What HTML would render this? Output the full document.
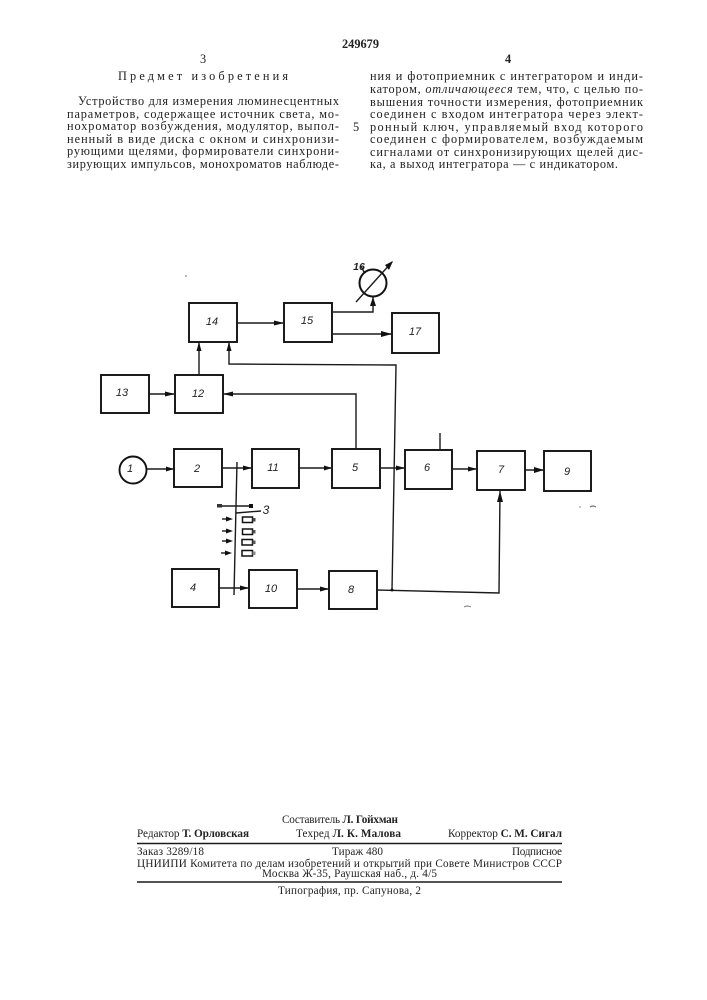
<!DOCTYPE html>
<html lang="ru">
<head>
<meta charset="utf-8">
<style>
html,body{margin:0;padding:0;background:#fff}
svg{display:block;filter:blur(0.35px)}
.t{font-family:"Liberation Serif",serif;font-size:12.3px;fill:#222}
.f{font-family:"Liberation Serif",serif;font-size:11.2px;fill:#222}
.b{font-weight:bold}
.l{font-family:"Liberation Sans",sans-serif;font-style:italic;font-size:11px;fill:#222;text-anchor:middle}
rect.n{fill:none;stroke:#111;stroke-width:1.9}
line,polyline{fill:none;stroke:#1a1a1a;stroke-width:1.4}
polygon{fill:#111}
</style>
</head>
<body>
<svg xmlns="http://www.w3.org/2000/svg" width="707" height="1000" viewBox="0 0 707 1000">
<rect width="707" height="1000" fill="#fff"/>

<!-- header -->
<text class="t b" x="342" y="48" textLength="37" lengthAdjust="spacing">249679</text>
<text class="t" x="200" y="63">3</text>
<text class="t b" x="505" y="63">4</text>
<text class="t" x="118" y="80" textLength="170" lengthAdjust="spacing">Предмет изобретения</text>

<!-- left column -->
<text class="t" x="78" y="105" textLength="261" lengthAdjust="spacing">Устройство для измерения люминесцентных</text>
<text class="t" x="67" y="118" textLength="272" lengthAdjust="spacing">параметров, содержащее источник света, мо-</text>
<text class="t" x="67" y="130" textLength="272" lengthAdjust="spacing">нохроматор возбуждения, модулятор, выпол-</text>
<text class="t" x="67" y="143" textLength="272" lengthAdjust="spacing">ненный в виде диска с окном и синхронизи-</text>
<text class="t" x="67" y="155" textLength="272" lengthAdjust="spacing">рующими щелями, формирователи синхрони-</text>
<text class="t" x="67" y="168" textLength="272" lengthAdjust="spacing">зирующих импульсов, монохроматов наблюде-</text>

<text class="t" x="353" y="131">5</text>

<!-- right column -->
<text class="t" x="370" y="80" textLength="273" lengthAdjust="spacing">ния и фотоприемник с интегратором и инди-</text>
<text class="t" x="370" y="93" textLength="273" lengthAdjust="spacing">катором, <tspan font-style="italic">отличающееся</tspan> тем, что, с целью по-</text>
<text class="t" x="370" y="106" textLength="273" lengthAdjust="spacing">вышения точности измерения, фотоприемник</text>
<text class="t" x="370" y="118" textLength="273" lengthAdjust="spacing">соединен с входом интегратора через элект-</text>
<text class="t" x="370" y="131" textLength="273" lengthAdjust="spacing">ронный ключ, управляемый вход которого</text>
<text class="t" x="370" y="143" textLength="273" lengthAdjust="spacing">соединен с формирователем, возбуждаемым</text>
<text class="t" x="370" y="156" textLength="273" lengthAdjust="spacing">сигналами от синхронизирующих щелей дис-</text>
<text class="t" x="370" y="168" textLength="248" lengthAdjust="spacing">ка, а выход интегратора — с индикатором.</text>

<!-- boxes -->
<rect class="n" x="189" y="303" width="48" height="39"/>
<rect class="n" x="284" y="303" width="48" height="39"/>
<rect class="n" x="392" y="313" width="47" height="40"/>
<rect class="n" x="101" y="375" width="48" height="38"/>
<rect class="n" x="175" y="375" width="48" height="38"/>
<rect class="n" x="174" y="449" width="48" height="38"/>
<rect class="n" x="252" y="449" width="47" height="39"/>
<rect class="n" x="332" y="449" width="48" height="39"/>
<rect class="n" x="405" y="450" width="47" height="39"/>
<rect class="n" x="477" y="451" width="48" height="39"/>
<rect class="n" x="544" y="451" width="47" height="40"/>
<rect class="n" x="172" y="569" width="47" height="38"/>
<rect class="n" x="249" y="570" width="48" height="38"/>
<rect class="n" x="329" y="571" width="48" height="38"/>
<circle cx="133" cy="470" r="13.5" fill="none" stroke="#111" stroke-width="1.9"/>
<circle cx="373" cy="283" r="13.5" fill="none" stroke="#111" stroke-width="2"/>

<!-- connectors -->
<line x1="147" y1="469" x2="174" y2="469"/><polygon points="174,469 166,466.5 166,471.5"/>
<line x1="222" y1="468" x2="252" y2="468"/><polygon points="252,468 243,465.5 243,470.5"/>
<line x1="299" y1="468" x2="332" y2="468"/><polygon points="332,468 324,465.5 324,470.5"/>
<line x1="380" y1="468" x2="405" y2="468"/><polygon points="405,468 396,465.5 396,470.5"/>
<line x1="452" y1="469" x2="477" y2="469"/><polygon points="477,469 468,466.5 468,471.5"/>
<line x1="525" y1="470" x2="544" y2="470"/><polygon points="544,470 534,467 534,473"/>
<line x1="149" y1="394" x2="175" y2="394"/><polygon points="175,394 165,391.5 165,396.5"/>
<line x1="199" y1="375" x2="199" y2="342"/><polygon points="199,342 196.5,351 201.500,351"/>
<line x1="237" y1="323" x2="284" y2="323"/><polygon points="284,323 274,320.5 274,325.500"/>
<polyline points="332,312 373,312 373,297"/><polygon points="373,297 370,306 376,306"/>
<line x1="332" y1="334" x2="392" y2="334"/><polygon points="392,334 381,331 381,337"/>
<polyline points="356,449 356,394 223,394"/><polygon points="223,394 233,391.5 233,396.5"/>
<polyline points="229,342 229,364 396,365 392,590"/><polygon points="229,342 226.500,351 231.500,351"/>
<polyline points="377,590 499,593 500,491" stroke-width="1.6"/><polygon points="500,491 497,502 503,502"/>
<circle cx="392" cy="590" r="1.5" fill="#111"/>
<line x1="219" y1="588" x2="249" y2="588"/><polygon points="249,588 240,585.500 240,590.500"/>
<line x1="297" y1="589" x2="329" y2="589"/><polygon points="329,589 320,586.500 320,591.500"/>
<line x1="440" y1="433" x2="440" y2="450"/>

<!-- indicator slash -->
<line x1="356" y1="302" x2="392" y2="262"/><polygon points="393,261 385,265 389,270"/>
<line x1="361" y1="266" x2="364" y2="272"/>

<!-- disk -->
<line x1="237" y1="462" x2="234" y2="595" stroke-width="1.6"/>
<line x1="219" y1="506" x2="252" y2="506"/>
<rect x="217" y="504" width="5" height="3.500" fill="#333"/>
<rect x="249" y="504" width="4" height="4" fill="#111"/>
<line x1="236" y1="513" x2="261" y2="511"/>
<text class="l" x="266" y="514" style="font-size:12px">3</text>
<g>
<line x1="222" y1="519" x2="230" y2="519"/><polygon points="233,519 226,516.500 226,521.500"/>
<line x1="222" y1="531" x2="230" y2="531"/><polygon points="233,531 226,528.500 226,533.500"/>
<line x1="222" y1="541" x2="230" y2="541"/><polygon points="233,541 226,538.500 226,543.500"/>
<line x1="221" y1="553" x2="229" y2="553"/><polygon points="232,553 225,550.500 225,555.500"/>
<rect x="242.500" y="517" width="10" height="5.500" fill="none" stroke="#111" stroke-width="1.500"/>
<rect x="252.500" y="518" width="3" height="3.500" fill="#444"/>
<rect x="242.500" y="529" width="10" height="5.500" fill="none" stroke="#111" stroke-width="1.500"/>
<rect x="252.500" y="530" width="3" height="3.500" fill="#555"/>
<rect x="242" y="539.500" width="10.500" height="5.500" fill="none" stroke="#111" stroke-width="1.500"/>
<rect x="252.500" y="540.500" width="3" height="3.500" fill="#555"/>
<rect x="242" y="550.500" width="10.500" height="5.500" fill="none" stroke="#111" stroke-width="1.500"/>
<rect x="252.500" y="551.500" width="3" height="3.500" fill="#888"/>
</g>

<!-- block labels -->
<text class="l" x="212" y="325">14</text>
<text class="l" x="307" y="324">15</text>
<text class="l" x="415" y="335">17</text>
<text class="l" x="122" y="396">13</text>
<text class="l" x="198" y="397">12</text>
<text class="l" x="130" y="472">1</text>
<text class="l" x="197" y="472">2</text>
<text class="l" x="273" y="471">11</text>
<text class="l" x="355" y="471">5</text>
<text class="l" x="427" y="471">6</text>
<text class="l" x="501" y="473">7</text>
<text class="l" x="567" y="475">9</text>
<text class="l" x="193" y="591">4</text>
<text class="l" x="271" y="592">10</text>
<text class="l" x="351" y="593">8</text>
<text class="l" x="359" y="270" font-weight="bold" style="font-size:10.500px">16</text>

<!-- footer -->
<text class="f" x="282" y="823" textLength="116" lengthAdjust="spacing">Составитель <tspan class="b">Л. Гойхман</tspan></text>
<text class="f" x="137" y="837" textLength="112" lengthAdjust="spacing">Редактор <tspan class="b">Т. Орловская</tspan></text>
<text class="f" x="296" y="837" textLength="105" lengthAdjust="spacing">Техред <tspan class="b">Л. К. Малова</tspan></text>
<text class="f" x="448" y="837" textLength="114" lengthAdjust="spacing">Корректор <tspan class="b">С. М. Сигал</tspan></text>
<line x1="137" y1="843.500" x2="562" y2="843.500" stroke-width="1.400"/>
<text class="f" x="137" y="855" textLength="67" lengthAdjust="spacing">Заказ 3289/18</text>
<text class="f" x="332" y="855" textLength="51" lengthAdjust="spacing">Тираж 480</text>
<text class="f" x="512" y="855" textLength="50" lengthAdjust="spacing">Подписное</text>
<text class="f" x="137" y="867" textLength="425" lengthAdjust="spacing">ЦНИИПИ Комитета по делам изобретений и открытий при Совете Министров СССР</text>
<text class="f" x="262" y="877" textLength="175" lengthAdjust="spacing">Москва Ж-35, Раушская наб., д. 4/5</text>
<line x1="137" y1="882" x2="562" y2="882" stroke-width="1.600"/>
<text class="f" x="278" y="894" textLength="143" lengthAdjust="spacing">Типография, пр. Сапунова, 2</text>

<!-- scan specks -->
<circle cx="186" cy="276" r="0.7" fill="#555"/>
<circle cx="580" cy="507" r="0.7" fill="#777"/>
<path d="M590 507 q3 -2 6 0" fill="none" stroke="#555" stroke-width="0.9"/>
<path d="M464 607 q3 -2 7 0" fill="none" stroke="#777" stroke-width="0.9"/>
</svg>
</body>
</html>
